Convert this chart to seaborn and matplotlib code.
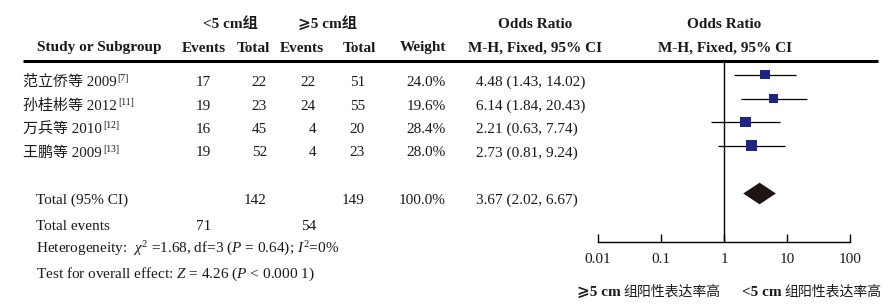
import matplotlib
matplotlib.use('Agg')
import matplotlib.pyplot as plt
from matplotlib.ticker import NullLocator
import seaborn as sns
import pandas as pd

# ---------------- data ----------------
studies = ['范立侨等 2009', '孙桂彬等 2012', '万兵等 2010', '王鹏等 2009']
refs = ['[7]', '[11]', '[12]', '[13]']
events_small = [17, 19, 16, 19]
total_small = [22, 23, 45, 52]
events_large = [22, 24, 4, 4]
total_large = [51, 55, 20, 23]
weights = [24.0, 19.6, 28.4, 28.0]
or_est = [4.48, 6.14, 2.21, 2.73]
or_lo = [1.43, 1.84, 0.63, 0.81]
or_hi = [14.02, 20.43, 7.74, 9.24]
pooled_est, pooled_lo, pooled_hi = 3.67, 2.02, 6.67
pooled_weight = 100.0
sum_total_small, sum_total_large = 142, 149
sum_events_small, sum_events_large = 71, 54
xticks = [0.01, 0.1, 1, 10, 100]
xtick_labels = ['0.01', '0.1', '1', '10', '100']
group_small = '<5 cm组'
group_large = '⩾5 cm组'

# ---------------- style ----------------
sns.set_theme(style='white')
SERIF = ['Liberation Serif', 'DejaVu Sans', 'Noto Sans CJK SC']
plt.rcParams['font.family'] = SERIF
plt.rcParams['mathtext.fontset'] = 'custom'
plt.rcParams['mathtext.rm'] = 'Liberation Serif'
plt.rcParams['mathtext.it'] = 'Liberation Serif:italic'
plt.rcParams['mathtext.bf'] = 'Liberation Serif:bold'

W, H = 889, 305
fig = plt.figure(figsize=(W / 100, H / 100), dpi=100)
fig.patch.set_facecolor('white')
ax0 = fig.add_axes([0, 0, 1, 1])
ax0.set_xlim(0, W)
ax0.set_ylim(H, 0)
ax0.axis('off')

FS = 11
TXT = '#1a1a1a'

# layout (pixel rows / columns)
row_y = [82, 106, 129.5, 153]
total_y = 200
events_y = 226
het_y = 249
test_y = 274
hdr1_y, hdr2_y = 24, 48
line_y = 61
axis_y = 242
x_study = 23
x_left2 = 36
x_ev1, x_tot1, x_ev2, x_tot2, x_w = 211, 267, 316, 365, 446
x_or = 476

# headers
hb = dict(fontsize=FS, fontweight='bold', color=TXT, va='center', ha='center')
ax0.text(230, hdr1_y, group_small, **hb)
ax0.text(328, hdr1_y, group_large, **hb)
ax0.text(535, hdr1_y, 'Odds Ratio', **hb)
ax0.text(724, hdr1_y, 'Odds Ratio', **hb)
ax0.text(99.5, hdr2_y, 'Study or Subgroup', **hb)
ax0.text(204, hdr2_y, 'Events', **hb)
ax0.text(253, hdr2_y, 'Total', **hb)
ax0.text(302, hdr2_y, 'Events', **hb)
ax0.text(359, hdr2_y, 'Total', **hb)
ax0.text(423, hdr2_y, 'Weight', **hb)
ax0.text(535, hdr2_y, 'M-H, Fixed, 95% CI', **hb)
ax0.text(725, hdr2_y, 'M-H, Fixed, 95% CI', **hb)
ax0.plot([23, 878], [line_y, line_y], color='black', lw=2.2, solid_capstyle='butt')

# study rows
tr = dict(fontsize=FS, color=TXT, va='center', ha='right')
name_texts = []
for i, y in enumerate(row_y):
    t = ax0.text(x_study, y, studies[i], fontsize=10.8, color=TXT, va='center', ha='left')
    name_texts.append(t)
    ax0.text(x_ev1, y, str(events_small[i]), **tr)
    ax0.text(x_tot1, y, str(total_small[i]), **tr)
    ax0.text(x_ev2, y, str(events_large[i]), **tr)
    ax0.text(x_tot2, y, str(total_large[i]), **tr)
    ax0.text(x_w, y, f'{weights[i]:.1f}%', **tr)
    ax0.text(x_or, y, f'{or_est[i]:.2f} ({or_lo[i]:.2f}, {or_hi[i]:.2f})',
             fontsize=FS, color=TXT, va='center', ha='left')

# totals
ax0.text(x_left2, total_y, 'Total (95% CI)', fontsize=FS, color=TXT, va='center', ha='left')
ax0.text(x_tot1, total_y, str(sum_total_small), **tr)
ax0.text(x_tot2, total_y, str(sum_total_large), **tr)
ax0.text(x_w, total_y, f'{pooled_weight:.1f}%', **tr)
ax0.text(x_or, total_y, f'{pooled_est:.2f} ({pooled_lo:.2f}, {pooled_hi:.2f})',
         fontsize=FS, color=TXT, va='center', ha='left')
ax0.text(x_left2, events_y, 'Total events', fontsize=FS, color=TXT, va='center', ha='left')
ax0.text(x_ev1, events_y, str(sum_events_small), **tr)
ax0.text(x_ev2, events_y, str(sum_events_large), **tr)
ax0.text(x_left2, het_y, r'Heterogeneity:  $\chi^2$ =1.68, df=3 ($P$ = 0.64); $I^2$=0%',
         fontsize=FS, color=TXT, va='center', ha='left')
ax0.text(x_left2, test_y, r'Test for overall effect: $Z$ = 4.26 ($P$ < 0.000 1)',
         fontsize=FS, color=TXT, va='center', ha='left')

# bottom direction labels
lab_y = 292
for xl, g in [(621, '⩾5 cm'), (782, '<5 cm')]:
    ax0.text(xl, lab_y, g, fontsize=FS, fontweight='bold', color=TXT, va='center', ha='right')
    ax0.text(xl + 2, lab_y, '组阳性表达率高', fontsize=10, color=TXT, va='center', ha='left',
             family=['Noto Sans CJK SC'])

# ---------------- forest axes ----------------
axf = fig.add_axes([598 / W, 1 - axis_y / H, (850 - 598) / W, (axis_y - line_y) / H])
axf.patch.set_alpha(0)
axf.set_xscale('log')

mark_y = [y - 7.5 for y in row_y]
df = pd.DataFrame({'or': or_est, 'lo': or_lo, 'hi': or_hi, 'weight': weights, 'y': mark_y})
axf.hlines(df['y'], df['lo'], df['hi'], color='black', lw=0.9, zorder=2)
sns.scatterplot(data=df, x='or', y='y', size='weight', sizes=(40, 56), size_norm=(19.6, 28.4),
                marker='s', color='#1f2580', edgecolor='none', linewidth=0, legend=False,
                ax=axf, zorder=3)
dy = total_y - 6.5
hh = 10.8
axf.fill([pooled_lo, pooled_est, pooled_hi, pooled_est], [dy, dy - hh, dy, dy + hh],
         color='#1e1414', lw=0, zorder=3)
axf.axvline(1, color='black', lw=1, zorder=1)

axf.set_xlim(0.01, 100)
axf.set_ylim(axis_y, line_y)
axf.set_xlabel('')
axf.set_ylabel('')
axf.set_yticks([])
axf.set_xticks(xticks)
axf.set_xticklabels(xtick_labels)
axf.xaxis.set_minor_locator(NullLocator())
axf.tick_params(axis='x', direction='in', length=6, width=1, color='black', pad=8,
                labelsize=FS, labelcolor=TXT, bottom=True)
for s in ['top', 'right', 'left']:
    axf.spines[s].set_visible(False)
axf.spines['bottom'].set_color('black')
axf.spines['bottom'].set_linewidth(1)

# superscript references after study names
fig.canvas.draw()
rend = fig.canvas.get_renderer()
inv = ax0.transData.inverted()
for t, r, y in zip(name_texts, refs, row_y):
    bb = t.get_window_extent(rend)
    xr, _ = inv.transform((bb.x1, bb.y1))
    ax0.text(xr + 1, y - 8, r, fontsize=7, color=TXT, va='top', ha='left')

fig.savefig('out.png', dpi=100, facecolor='white')
